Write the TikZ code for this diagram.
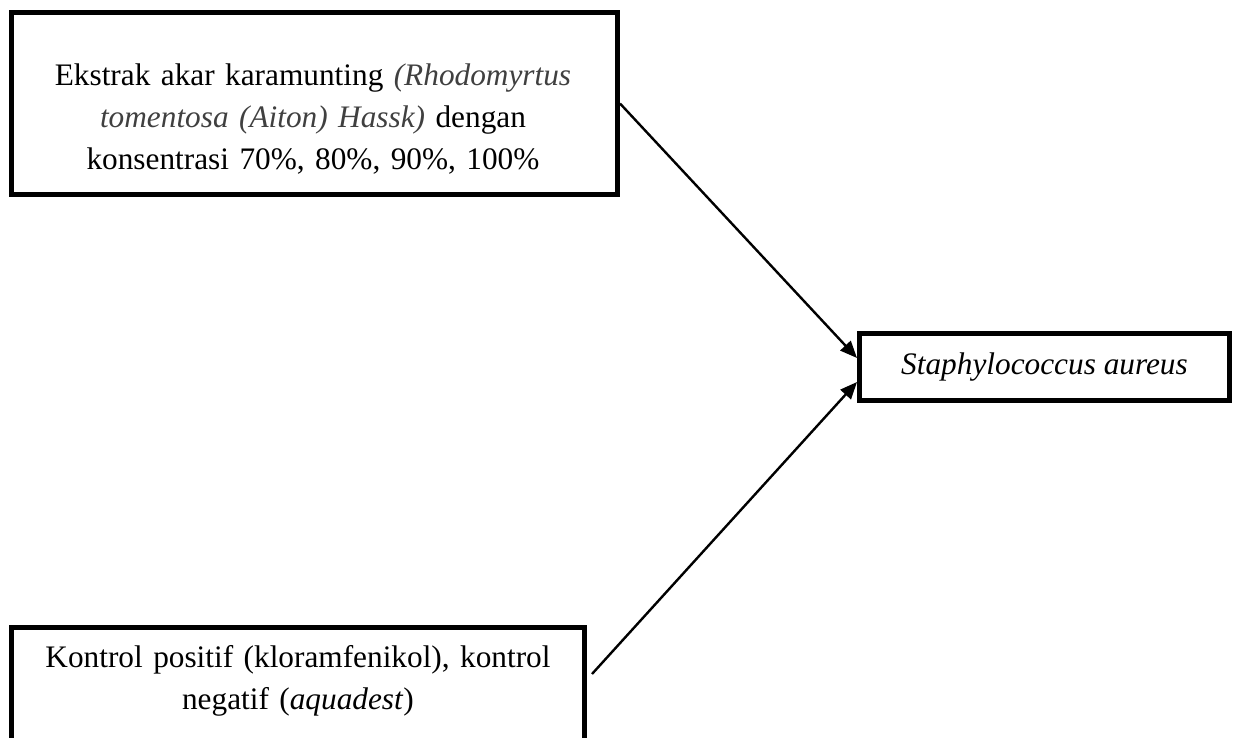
\documentclass[tikz,border=0pt]{standalone}
\usepackage{fontspec}
\setmainfont{Liberation Serif}
\usetikzlibrary{arrows.meta,calc}
\definecolor{itgray}{RGB}{64,64,64}
\begin{document}
\begin{tikzpicture}[x=1pt,y=-1pt,
  boxstyle/.style={draw, line width=5pt, rectangle, inner sep=0pt},
  txt/.style={font=\fontsize{31.3}{42}\selectfont, align=center, inner sep=0pt},
  conn/.style={line width=2.4pt, -{Triangle[length=17pt,width=14pt]}}]
\useasboundingbox (0,0) rectangle (1239,738);
\clip (0,0) rectangle (1239,738);
\fill[white] (0,0) rectangle (1239,738);
% top box
\node[boxstyle, minimum width=606pt, minimum height=182pt] (top) at (314.5,103.5) {};
\node[txt, text width=600pt, anchor=base] (toptext) at (313,86)
  {Ekstrak akar karamunting \textcolor{itgray}{\itshape(Rhodomyrtus}\\
   \textcolor{itgray}{\itshape tomentosa (Aiton) Hassk)} dengan\\
   konsentrasi 70\%, 80\%, 90\%, 100\%};
% right box
\node[boxstyle, txt, minimum width=370pt, minimum height=67pt] (right) at (1044.5,367)
  {\itshape Staphylococcus aureus};
% bottom box
\node[boxstyle, minimum width=573pt, minimum height=173pt] (bottom) at (298,714) {};
\node[txt, text width=570pt, anchor=base] (bottomtext) at (298,667)
  {Kontrol positif (kloramfenikol), kontrol\\negatif (\textit{aquadest})};
\coordinate (bstart) at (592,674);
% connectors
\draw[conn] (top.east) -- ($(right.west)+(0,-9)$);
\draw[conn] (bstart) -- ($(right.west)+(0,15)$);
\end{tikzpicture}
\end{document}
